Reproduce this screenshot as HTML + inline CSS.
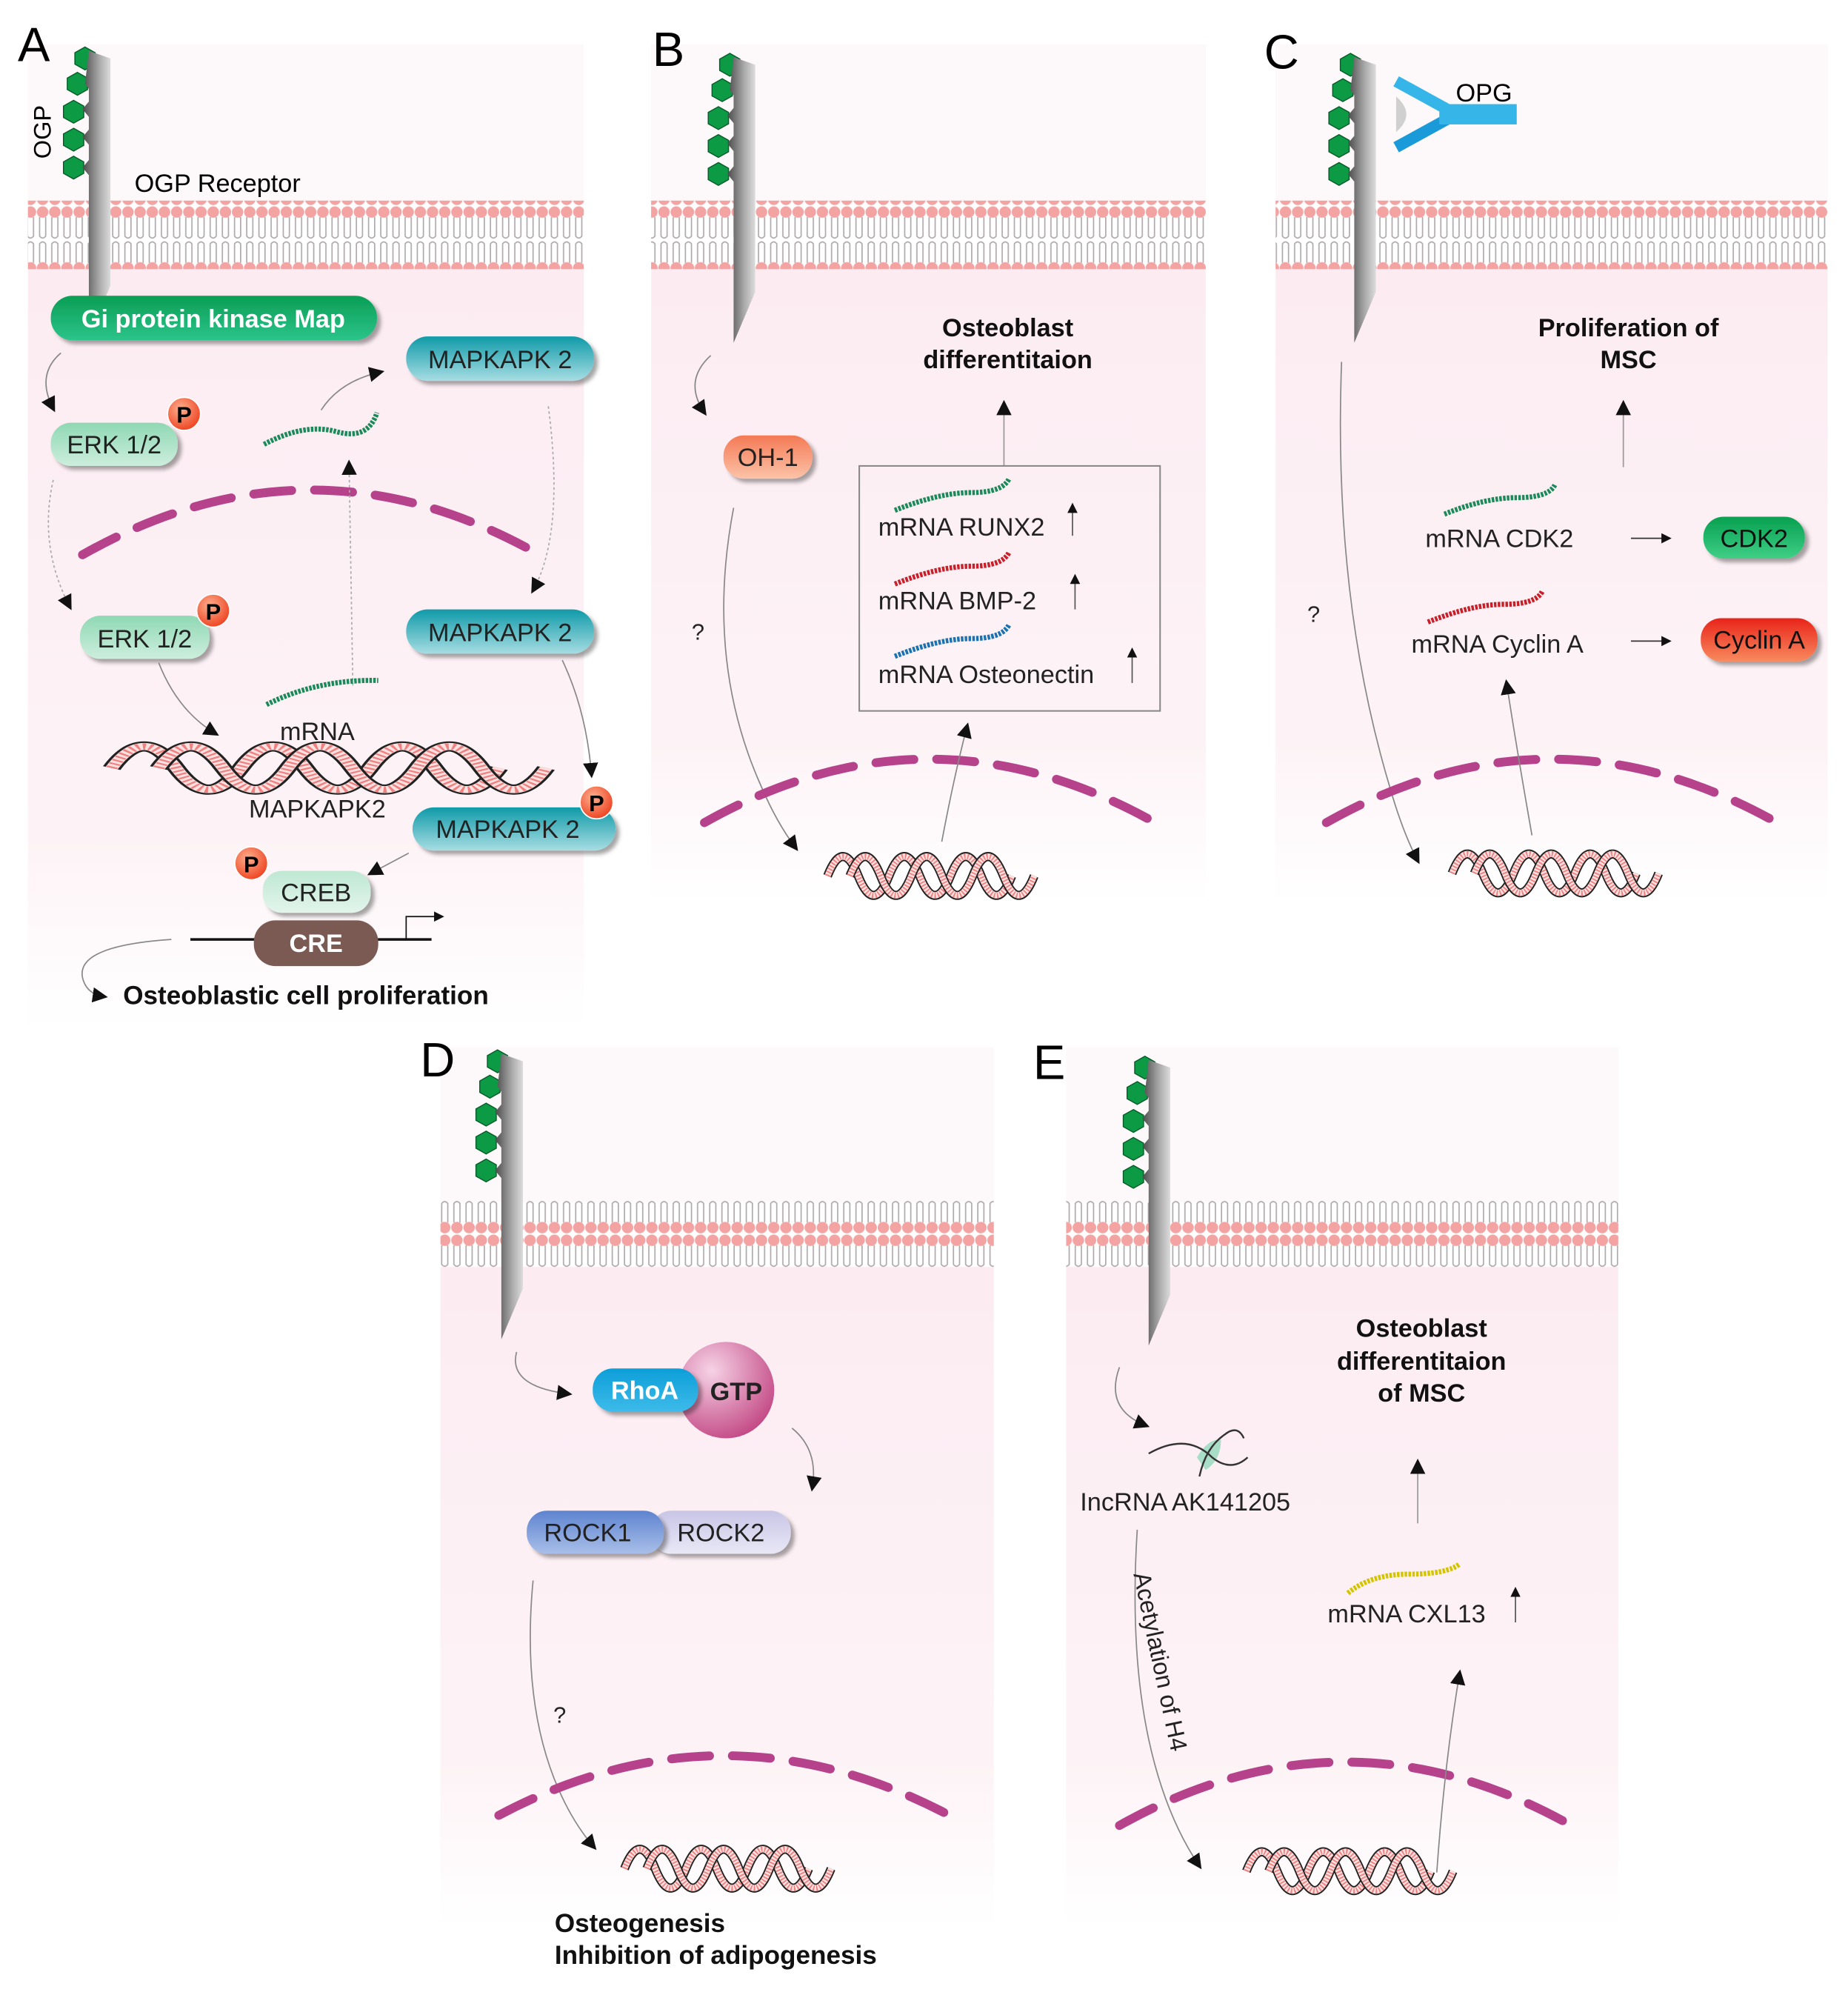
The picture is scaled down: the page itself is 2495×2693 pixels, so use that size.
<!DOCTYPE html>
<html><head><meta charset="utf-8"><style>
html,body{margin:0;padding:0;background:#fff;}
svg{display:block;}
text{font-family:"Liberation Sans",Arial,sans-serif;}
</style></head><body>
<svg width="2495" height="2693" viewBox="0 0 1456 1571.5" xmlns="http://www.w3.org/2000/svg">
<defs>
<pattern id="mem" x="0" y="0" width="9.6" height="54" patternUnits="userSpaceOnUse">
<path d="M2.4,9 L2.4,24 Q4.8,27 7.2,24 L7.2,9" fill="none" stroke="#b0aaac" stroke-width="1"/>
<path d="M2.4,45 L2.4,30 Q4.8,27 7.2,30 L7.2,45" fill="none" stroke="#b0aaac" stroke-width="1"/>
<circle cx="4.8" cy="5" r="4.5" fill="#f4a3a3"/>
<circle cx="4.8" cy="49" r="4.5" fill="#f4a3a3"/>
</pattern>
<linearGradient id="cell" x1="0" y1="0" x2="0" y2="1">
<stop offset="0" stop-color="#fcecf2"/><stop offset="0.75" stop-color="#fdf3f6"/><stop offset="1" stop-color="#ffffff"/>
</linearGradient>
<linearGradient id="rec" x1="0" y1="0" x2="1" y2="0">
<stop offset="0" stop-color="#4a4a4a"/><stop offset="0.6" stop-color="#a9a9a9"/><stop offset="1" stop-color="#dcdcdc"/>
</linearGradient>
<linearGradient id="gGi" x1="0" y1="0" x2="0" y2="1"><stop offset="0" stop-color="#0a9e55"/><stop offset="1" stop-color="#2cc48a"/></linearGradient>
<linearGradient id="gMK" x1="0" y1="0" x2="0" y2="1"><stop offset="0" stop-color="#0f9aa8"/><stop offset="1" stop-color="#a7dde3"/></linearGradient>
<linearGradient id="gERK" x1="0" y1="0" x2="0" y2="1"><stop offset="0" stop-color="#8fd8b4"/><stop offset="1" stop-color="#cdeedd"/></linearGradient>
<linearGradient id="gCREB" x1="0" y1="0" x2="0" y2="1"><stop offset="0" stop-color="#bfe8d3"/><stop offset="1" stop-color="#e3f5ec"/></linearGradient>
<linearGradient id="gOH" x1="0" y1="0" x2="0" y2="1"><stop offset="0" stop-color="#f47a55"/><stop offset="1" stop-color="#fcc3a8"/></linearGradient>
<linearGradient id="gCDK" x1="0" y1="0" x2="0" y2="1"><stop offset="0" stop-color="#07a050"/><stop offset="1" stop-color="#3fcf86"/></linearGradient>
<linearGradient id="gCyc" x1="0" y1="0" x2="0" y2="1"><stop offset="0" stop-color="#e8241a"/><stop offset="1" stop-color="#f98a5e"/></linearGradient>
<linearGradient id="gRho" x1="0" y1="0" x2="0" y2="1"><stop offset="0" stop-color="#0d9ed8"/><stop offset="1" stop-color="#3dbbea"/></linearGradient>
<linearGradient id="gR1" x1="0" y1="0" x2="0" y2="1"><stop offset="0" stop-color="#5d83cf"/><stop offset="1" stop-color="#a9bfe9"/></linearGradient>
<linearGradient id="gR2" x1="0" y1="0" x2="0" y2="1"><stop offset="0" stop-color="#c8c5e6"/><stop offset="1" stop-color="#e9e8f6"/></linearGradient>
<radialGradient id="gGTP" cx="0.35" cy="0.3" r="0.8"><stop offset="0" stop-color="#f6d3e6"/><stop offset="1" stop-color="#c0407f"/></radialGradient>
<radialGradient id="gP" cx="0.4" cy="0.35" r="0.7"><stop offset="0" stop-color="#fbb08f"/><stop offset="1" stop-color="#ee3e1c"/></radialGradient>
<filter id="sh" x="-20%" y="-30%" width="150%" height="180%"><feDropShadow dx="3" dy="3" stdDeviation="1.5" flood-color="#000" flood-opacity="0.35"/></filter>
<marker id="ar" markerWidth="12" markerHeight="12" refX="9" refY="6" orient="auto" markerUnits="userSpaceOnUse"><path d="M0,0 L12,6 L0,12 Z" fill="#111"/></marker>
<marker id="ars" markerWidth="8" markerHeight="8" refX="6" refY="4" orient="auto" markerUnits="userSpaceOnUse"><path d="M0,0 L8,4 L0,8 Z" fill="#111"/></marker>
<g id="hex"><polygon points="0,-9 8,-4.5 8,4.5 0,9 -8,4.5 -8,-4.5" fill="#0c9a45" stroke="#065a28" stroke-width="0.8"/></g>
<g id="recp">
<use href="#hex" x="12" y="6"/><use href="#hex" x="6" y="26"/><use href="#hex" x="3" y="48"/><use href="#hex" x="3" y="70"/><use href="#hex" x="3" y="92"/>
<path d="M15,0 L32,6 L32,185 L15,225 L15,98 L10,92 L15,86 L15,74 L10,68 L15,62 L15,52 L10,46 L15,40 L15,30 L12,26 Z" fill="url(#rec)"/>
</g>
<path id="strand" d="M0,0 Q13.75,-34 27.5,0 T55,0 T82.5,0 T110,0 T137.5,0 T165,0"/>
<g id="rib">
<use href="#strand" fill="none" stroke="#222" stroke-width="8"/>
<use href="#strand" fill="none" stroke="#fde0e0" stroke-width="5.5"/>
<use href="#strand" fill="none" stroke="#ef8080" stroke-width="5" stroke-dasharray="1.2 1.6"/>
</g>
<g id="dna">
<use href="#rib"/>
<use href="#rib" x="20"/>
</g>
</defs>

<!-- Panel backgrounds -->
<rect x="22" y="35" width="438" height="125" fill="#fdf8fa"/>
<rect x="22" y="210" width="438" height="600" fill="url(#cell)"/>
<rect x="22" y="158" width="438" height="54" fill="url(#mem)"/>
<rect x="513" y="35" width="437" height="125" fill="#fdf8fa"/>
<rect x="513" y="210" width="437" height="500" fill="url(#cell)"/>
<rect x="513" y="158" width="437" height="54" fill="url(#mem)"/>
<rect x="1005" y="35" width="435" height="125" fill="#fdf8fa"/>
<rect x="1005" y="210" width="435" height="500" fill="url(#cell)"/>
<rect x="1005" y="158" width="435" height="54" fill="url(#mem)"/>
<rect x="347" y="825" width="436" height="122" fill="#fdf8fa"/>
<rect x="347" y="998" width="436" height="520" fill="url(#cell)"/>
<rect x="347" y="945" width="436" height="54" fill="url(#mem)"/>
<rect x="840" y="825" width="435" height="122" fill="#fdf8fa"/>
<rect x="840" y="998" width="435" height="520" fill="url(#cell)"/>
<rect x="840" y="945" width="435" height="54" fill="url(#mem)"/>

<!-- Panel letters -->
<text x="14" y="48" font-size="38">A</text>
<text x="514" y="52" font-size="38">B</text>
<text x="996" y="54" font-size="38">C</text>
<text x="331" y="848" font-size="38">D</text>
<text x="814" y="850" font-size="38">E</text>

<!-- Receptors -->
<use href="#recp" x="55" y="40"/>
<use href="#recp" x="563" y="45"/>
<use href="#recp" x="1052" y="45"/>
<use href="#recp" x="380" y="830"/>
<use href="#recp" x="890" y="835"/>
<!-- OPG -->
<path d="M1100,64 L1140,86" stroke="#36b6e8" stroke-width="9" fill="none"/>
<path d="M1100,116 L1140,94" stroke="#1a9ad8" stroke-width="9" fill="none"/>
<rect x="1134" y="82" width="61" height="16" fill="#36b6e8"/>
<path d="M1100,76 Q1116,90 1100,104 Z" fill="#d0d0d0"/>
<text x="1147" y="80" font-size="20">OPG</text>

<!-- ===== Panel A ===== -->
<text x="40" y="125" font-size="19" transform="rotate(-90 40 125)">OGP</text>
<text x="106" y="151" font-size="20">OGP Receptor</text>
<rect x="40" y="233" width="257" height="35" rx="17" fill="url(#gGi)" filter="url(#sh)"/>
<text x="168" y="258" font-size="20" font-weight="bold" fill="#fff" text-anchor="middle">Gi protein kinase Map</text>

<path d="M48,278 Q28,295 42,322" fill="none" stroke="#888" stroke-width="1" marker-end="url(#ar)"/>
<rect x="40" y="333" width="100" height="34" rx="16" fill="url(#gERK)" filter="url(#sh)"/>
<text x="90" y="357" font-size="20" text-anchor="middle" fill="#222">ERK 1/2</text>
<circle cx="145" cy="326" r="13" fill="url(#gP)" stroke="#fff" stroke-width="1"/>
<text x="145" y="333" font-size="18" font-weight="bold" text-anchor="middle">P</text>

<path d="M208,350 Q240,333 265,340 T297,325" fill="none" stroke="#1a8a5a" stroke-width="4" stroke-dasharray="2 1"/>
<path d="M253,323 Q268,300 300,293" fill="none" stroke="#888" stroke-width="1" marker-end="url(#ar)"/>
<rect x="320" y="265" width="148" height="35" rx="17" fill="url(#gMK)" filter="url(#sh)"/>
<text x="394" y="290" font-size="20" text-anchor="middle" fill="#222">MAPKAPK 2</text>

<path d="M65,437 Q245,335 425,437" fill="none" stroke="#b5428a" stroke-width="7" stroke-linecap="round" stroke-dasharray="30 18"/>

<path d="M42,378 Q30,430 55,478" fill="none" stroke="#aaa" stroke-width="1" stroke-dasharray="2 2" marker-end="url(#ar)"/>
<path d="M432,320 Q445,420 420,465" fill="none" stroke="#aaa" stroke-width="1" stroke-dasharray="2 2" marker-end="url(#ar)"/>
<path d="M278,540 L275,365" fill="none" stroke="#aaa" stroke-width="1" stroke-dasharray="2 2" marker-end="url(#ar)"/>

<rect x="63" y="485" width="102" height="34" rx="16" fill="url(#gERK)" filter="url(#sh)"/>
<text x="114" y="510" font-size="20" text-anchor="middle" fill="#222">ERK 1/2</text>
<circle cx="168" cy="481" r="13" fill="url(#gP)" stroke="#fff" stroke-width="1"/>
<text x="168" y="488" font-size="18" font-weight="bold" text-anchor="middle">P</text>

<rect x="320" y="480" width="148" height="35" rx="17" fill="url(#gMK)" filter="url(#sh)"/>
<text x="394" y="505" font-size="20" text-anchor="middle" fill="#222">MAPKAPK 2</text>

<path d="M125,522 Q140,560 170,578" fill="none" stroke="#888" stroke-width="1" marker-end="url(#ar)"/>
<path d="M210,555 Q250,535 298,536" fill="none" stroke="#1a8a5a" stroke-width="4" stroke-dasharray="2 1"/>
<text x="250" y="583" font-size="20" text-anchor="middle" fill="#222">mRNA</text>
<g transform="translate(88,605) scale(1.85,1.0)"><use href="#dna"/></g>
<text x="250" y="644" font-size="20" text-anchor="middle" fill="#222">MAPKAPK2</text>
<path d="M443,520 Q462,560 466,610" fill="none" stroke="#888" stroke-width="1" marker-end="url(#ar)"/>

<rect x="325" y="636" width="160" height="34" rx="17" fill="url(#gMK)" filter="url(#sh)"/>
<text x="400" y="660" font-size="20" text-anchor="middle" fill="#222">MAPKAPK 2</text>
<circle cx="470" cy="632" r="13" fill="url(#gP)" stroke="#fff" stroke-width="1"/>
<text x="470" y="639" font-size="18" font-weight="bold" text-anchor="middle">P</text>

<path d="M322,672 L292,688" fill="none" stroke="#888" stroke-width="1" marker-end="url(#ar)"/>
<rect x="207" y="686" width="85" height="33" rx="15" fill="url(#gCREB)" filter="url(#sh)"/>
<text x="249" y="710" font-size="20" text-anchor="middle" fill="#222">CREB</text>
<circle cx="198" cy="680" r="13" fill="url(#gP)" stroke="#fff" stroke-width="1"/>
<text x="198" y="687" font-size="18" font-weight="bold" text-anchor="middle">P</text>
<line x1="150" y1="740" x2="340" y2="740" stroke="#111" stroke-width="2"/>
<path d="M320,740 L320,722 L348,722" fill="none" stroke="#111" stroke-width="1" marker-end="url(#ars)"/>
<rect x="200" y="725" width="98" height="36" rx="17" fill="#7a5a52"/>
<text x="249" y="750" font-size="20" font-weight="bold" text-anchor="middle" fill="#fff">CRE</text>
<path d="M135,740 Q60,745 65,770 Q68,783 82,785" fill="none" stroke="#888" stroke-width="1" marker-end="url(#ar)"/>
<text x="97" y="791" font-size="20.5" font-weight="bold" fill="#111">Osteoblastic cell proliferation</text>

<!-- ===== Panel B ===== -->
<path d="M560,280 Q538,300 555,325" fill="none" stroke="#888" stroke-width="1" marker-end="url(#ar)"/>
<rect x="570" y="343" width="70" height="34" rx="16" fill="url(#gOH)" filter="url(#sh)"/>
<text x="605" y="367" font-size="20" text-anchor="middle" fill="#222">OH-1</text>
<text x="794" y="265" font-size="20" font-weight="bold" text-anchor="middle" fill="#111">Osteoblast</text>
<text x="794" y="290" font-size="20" font-weight="bold" text-anchor="middle" fill="#111">differentitaion</text>
<line x1="791" y1="367" x2="791" y2="318" stroke="#999" stroke-width="1" marker-end="url(#ar)"/>
<rect x="677" y="367" width="237" height="193" fill="none" stroke="#888" stroke-width="1.2"/>
<path d="M705,402 Q740,388 765,388 T795,377" fill="none" stroke="#1a8a5a" stroke-width="4" stroke-dasharray="2 1"/>
<text x="692" y="422" font-size="20" fill="#222">mRNA RUNX2</text>
<line x1="845" y1="422" x2="845" y2="398" stroke="#555" stroke-width="1" marker-end="url(#ars)"/>
<path d="M705,460 Q740,446 765,446 T795,435" fill="none" stroke="#c8202a" stroke-width="4" stroke-dasharray="2 1"/>
<text x="692" y="480" font-size="20" fill="#222">mRNA BMP-2</text>
<line x1="847" y1="480" x2="847" y2="454" stroke="#555" stroke-width="1" marker-end="url(#ars)"/>
<path d="M705,517 Q740,503 765,503 T795,492" fill="none" stroke="#1a72b0" stroke-width="4" stroke-dasharray="2 1"/>
<text x="692" y="538" font-size="20" fill="#222">mRNA Osteonectin</text>
<line x1="892" y1="538" x2="892" y2="512" stroke="#555" stroke-width="1" marker-end="url(#ars)"/>
<text x="545" y="504" font-size="18" fill="#222">?</text>
<path d="M578,400 Q555,520 600,620 Q612,648 627,668" fill="none" stroke="#888" stroke-width="1" marker-end="url(#ar)"/>
<path d="M555,648 Q732,548 910,648" fill="none" stroke="#b5428a" stroke-width="7" stroke-linecap="round" stroke-dasharray="30 18"/>
<g transform="translate(652,690) scale(0.88,0.9)"><use href="#dna"/></g>
<path d="M742,663 Q752,610 762,572" fill="none" stroke="#888" stroke-width="1" marker-end="url(#ar)"/>

<!-- ===== Panel C ===== -->
<text x="1283" y="265" font-size="20" font-weight="bold" text-anchor="middle" fill="#111">Proliferation of</text>
<text x="1283" y="290" font-size="20" font-weight="bold" text-anchor="middle" fill="#111">MSC</text>
<line x1="1279" y1="368" x2="1279" y2="318" stroke="#999" stroke-width="1" marker-end="url(#ar)"/>
<path d="M1138,405 Q1170,392 1195,392 T1225,382" fill="none" stroke="#1a8a5a" stroke-width="4" stroke-dasharray="2 1"/>
<text x="1123" y="431" font-size="20" fill="#222">mRNA CDK2</text>
<line x1="1285" y1="424" x2="1315" y2="424" stroke="#333" stroke-width="1" marker-end="url(#ars)"/>
<rect x="1342" y="407" width="80" height="33" rx="16" fill="url(#gCDK)" filter="url(#sh)"/>
<text x="1382" y="431" font-size="20" text-anchor="middle" fill="#111">CDK2</text>
<path d="M1125,490 Q1160,476 1185,476 T1215,466" fill="none" stroke="#c8202a" stroke-width="4" stroke-dasharray="2 1"/>
<text x="1112" y="514" font-size="20" fill="#222">mRNA Cyclin A</text>
<line x1="1285" y1="505" x2="1315" y2="505" stroke="#333" stroke-width="1" marker-end="url(#ars)"/>
<rect x="1340" y="487" width="92" height="34" rx="16" fill="url(#gCyc)" filter="url(#sh)"/>
<text x="1386" y="511" font-size="20" text-anchor="middle" fill="#111">Cyclin A</text>
<text x="1030" y="490" font-size="18" fill="#222">?</text>
<path d="M1057,285 Q1050,470 1095,620 Q1105,655 1117,678" fill="none" stroke="#888" stroke-width="1" marker-end="url(#ar)"/>
<path d="M1045,648 Q1222,548 1400,648" fill="none" stroke="#b5428a" stroke-width="7" stroke-linecap="round" stroke-dasharray="30 18"/>
<g transform="translate(1144,688) scale(0.88,0.9)"><use href="#dna"/></g>
<path d="M1207,658 Q1195,590 1187,538" fill="none" stroke="#888" stroke-width="1" marker-end="url(#ar)"/>

<!-- ===== Panel D ===== -->
<path d="M407,1065 Q400,1092 448,1098" fill="none" stroke="#888" stroke-width="1" marker-end="url(#ar)"/>
<circle cx="572" cy="1095" r="38" fill="url(#gGTP)"/>
<text x="580" y="1103" font-size="20" font-weight="bold" text-anchor="middle" fill="#222">GTP</text>
<rect x="467" y="1078" width="83" height="34" rx="16" fill="url(#gRho)" filter="url(#sh)"/>
<text x="508" y="1102" font-size="20" font-weight="bold" text-anchor="middle" fill="#fff">RhoA</text>
<path d="M624,1125 Q645,1142 640,1172" fill="none" stroke="#888" stroke-width="1" marker-end="url(#ar)"/>
<rect x="513" y="1190" width="110" height="34" rx="16" fill="url(#gR2)" filter="url(#sh)"/>
<text x="568" y="1214" font-size="20" text-anchor="middle" fill="#222">ROCK2</text>
<rect x="415" y="1190" width="108" height="34" rx="16" fill="url(#gR1)" filter="url(#sh)"/>
<text x="463" y="1214" font-size="20" text-anchor="middle" fill="#222">ROCK1</text>
<text x="436" y="1357" font-size="18" fill="#222">?</text>
<path d="M420,1245 Q410,1350 445,1420 Q455,1440 468,1455" fill="none" stroke="#888" stroke-width="1" marker-end="url(#ar)"/>
<path d="M393,1430 Q570,1336 748,1430" fill="none" stroke="#b5428a" stroke-width="7" stroke-linecap="round" stroke-dasharray="30 18"/>
<g transform="translate(492,1472) scale(0.88,0.9)"><use href="#dna"/></g>
<text x="437" y="1522" font-size="20.5" font-weight="bold" fill="#111">Osteogenesis</text>
<text x="437" y="1547" font-size="20.5" font-weight="bold" fill="#111">Inhibition of adipogenesis</text>

<!-- ===== Panel E ===== -->
<path d="M882,1077 Q870,1110 903,1123" fill="none" stroke="#888" stroke-width="1" marker-end="url(#ar)"/>
<path d="M943,1148 Q952,1133 962,1134 Q962,1150 950,1158 Z" fill="#a8ddc8"/>
<path d="M905,1145 Q935,1128 955,1148 Q970,1160 983,1148" fill="none" stroke="#333" stroke-width="1.4"/>
<path d="M945,1163 Q950,1140 965,1130 Q975,1122 980,1133" fill="none" stroke="#333" stroke-width="1.4"/>
<text x="851" y="1190" font-size="20" fill="#222">IncRNA AK141205</text>
<path d="M896,1205 Q890,1300 905,1370 Q918,1430 945,1470" fill="none" stroke="#888" stroke-width="1" marker-end="url(#ar)"/>
<text x="893" y="1240" font-size="19" fill="#222" transform="rotate(78 893 1240)">Acetylation of H4</text>
<text x="1120" y="1053" font-size="20" font-weight="bold" text-anchor="middle" fill="#111">Osteoblast</text>
<text x="1120" y="1079" font-size="20" font-weight="bold" text-anchor="middle" fill="#111">differentitaion</text>
<text x="1120" y="1104" font-size="20" font-weight="bold" text-anchor="middle" fill="#111">of MSC</text>
<line x1="1117" y1="1200" x2="1117" y2="1152" stroke="#999" stroke-width="1" marker-end="url(#ar)"/>
<path d="M1062,1255 Q1080,1240 1110,1240 T1150,1232" fill="none" stroke="#d4c400" stroke-width="4" stroke-dasharray="2 1"/>
<text x="1046" y="1278" font-size="20" fill="#222">mRNA CXL13</text>
<line x1="1194" y1="1278" x2="1194" y2="1252" stroke="#555" stroke-width="1" marker-end="url(#ars)"/>
<path d="M882,1438 Q1060,1338 1238,1438" fill="none" stroke="#b5428a" stroke-width="7" stroke-linecap="round" stroke-dasharray="30 18"/>
<g transform="translate(982,1474) scale(0.88,0.9)"><use href="#dna"/></g>
<path d="M1132,1475 Q1138,1390 1150,1318" fill="none" stroke="#888" stroke-width="1" marker-end="url(#ar)"/>
</svg>
</body></html>
